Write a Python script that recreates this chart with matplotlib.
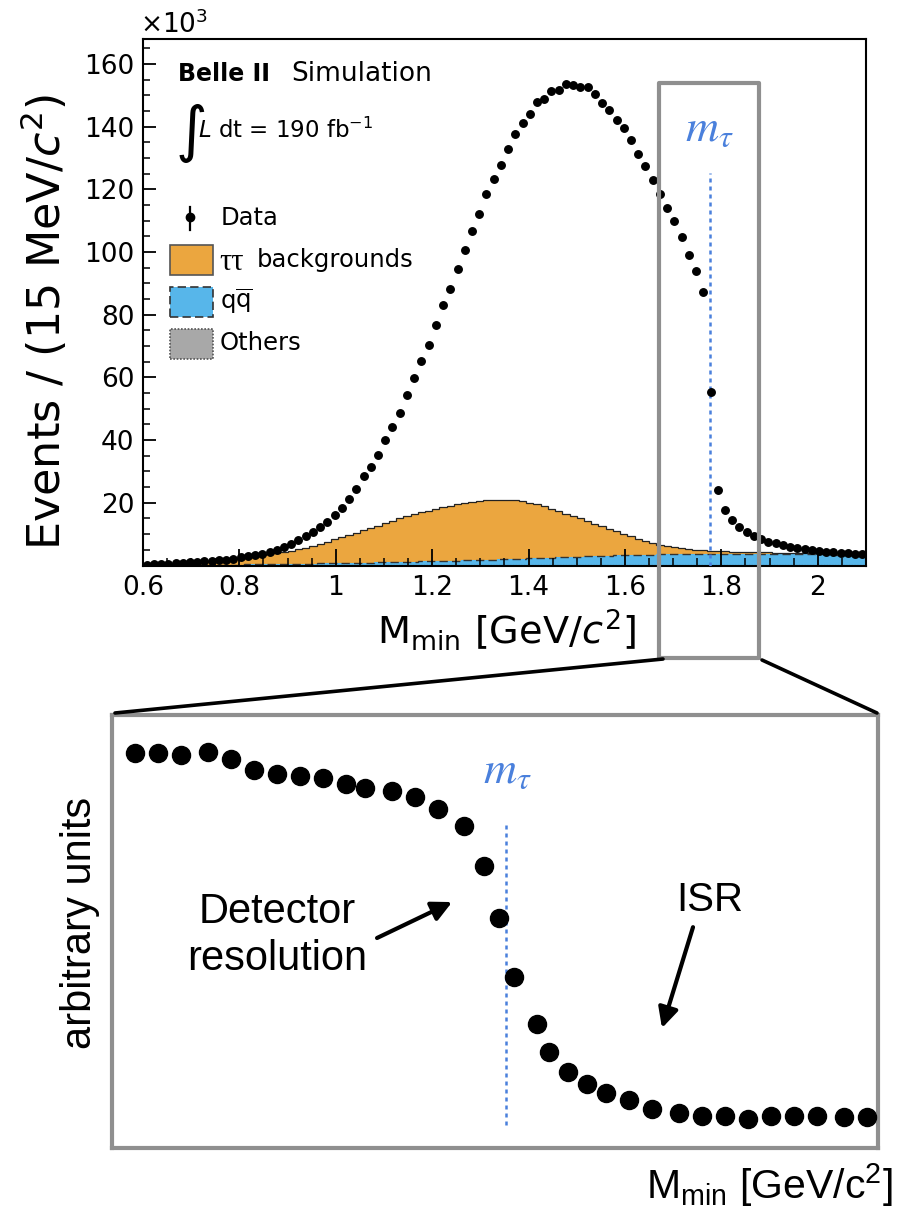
import numpy as np
import matplotlib
matplotlib.use("Agg")
import matplotlib.pyplot as plt
from matplotlib.patches import Rectangle, FancyArrowPatch
from matplotlib.lines import Line2D

# ---------------------------------------------------------------- data
# M_min spectrum, 100 bins of 15 MeV from 0.6 to 2.1 GeV (events in units of 1e3)
M_LOW, M_HIGH, N_BINS = 0.6, 2.1, 100
M_TAU = 1.777

data_counts = [
    0.3, 0.4, 0.5, 0.6, 0.7, 0.8, 1.0, 1.1, 1.3, 1.5, 1.7, 1.9, 2.2,
    2.6, 2.9, 3.3, 3.8, 4.4, 5.1, 6.0, 7.0, 8.2, 9.4, 10.7, 12.2, 14.0, 16.0, 18.5,
    21.1, 24.5, 28.4, 31.3, 35.3, 40.1, 44.3, 48.6, 54.4, 59.8, 65.1, 70.4, 76.8,
    83.0, 88.3, 94.5, 100.8, 106.7, 112.1, 118.7,
    123.3, 127.8, 132.8, 137.8, 141.3, 144.2, 147.9, 149.0, 151.4, 151.8, 153.6,
    153.4, 152.6, 152.6, 150.6, 147.7, 145.4, 142.2, 139.5, 135.7, 131.4, 127.5,
    122.9, 118.7, 114.1,
    109.9, 104.9, 99.0, 94.0, 87.3, 55.3,
    24.0, 17.8, 14.6, 12.4, 10.8, 9.5, 8.4, 7.6, 7.1, 6.5, 6.0, 5.7, 5.3, 4.9,
    4.6, 4.4, 4.2, 4.1, 3.9, 3.8, 3.6,
]

tautau_bkg = [
    0.20, 0.26, 0.33, 0.40, 0.47, 0.55, 0.68, 0.82, 0.96, 1.10,
    1.25, 1.49, 1.74, 2.00, 2.27, 2.55, 2.84, 3.14, 3.45, 3.77,
    4.10, 4.61, 5.14, 5.69, 6.27, 6.90, 7.56, 8.24, 8.93, 9.62,
    10.30, 11.02, 11.74, 12.45, 13.16, 13.85, 14.48, 15.08, 15.65, 16.19,
    16.70, 17.14, 17.54, 17.90, 18.26, 18.60, 18.79, 18.93, 19.02, 19.04,
    19.00, 18.77, 18.39, 17.86, 17.23, 16.50, 15.67, 14.79, 13.91, 13.03,
    12.20, 11.32, 10.44, 9.56, 8.68, 7.80, 6.94, 6.08, 5.22, 4.41,
    3.60, 3.06, 2.57, 2.18, 1.84, 1.60, 1.40, 1.22, 1.06, 0.92,
    0.80, 0.74, 0.68, 0.62, 0.56, 0.50, 0.48, 0.46, 0.44, 0.42,
    0.40, 0.40, 0.40, 0.40, 0.40, 0.40, 0.40, 0.40, 0.40, 0.40,
]

qqbar = [
    0.05, 0.06, 0.07, 0.07, 0.08, 0.09, 0.10, 0.12, 0.14, 0.15,
    0.17, 0.19, 0.20, 0.22, 0.24, 0.25, 0.28, 0.31, 0.33, 0.36,
    0.39, 0.42, 0.46, 0.50, 0.53, 0.57, 0.61, 0.64, 0.68, 0.72,
    0.75, 0.80, 0.85, 0.89, 0.94, 0.99, 1.03, 1.08, 1.13, 1.17,
    1.22, 1.28, 1.33, 1.39, 1.45, 1.50, 1.56, 1.62, 1.67, 1.73,
    1.79, 1.86, 1.94, 2.02, 2.09, 2.17, 2.25, 2.32, 2.40, 2.48,
    2.55, 2.63, 2.71, 2.78, 2.86, 2.94, 2.99, 3.05, 3.11, 3.16,
    3.22, 3.26, 3.30, 3.34, 3.38, 3.42, 3.42, 3.42, 3.42, 3.42,
    3.41, 3.41, 3.41, 3.41, 3.41, 3.41, 3.39, 3.37, 3.35, 3.33,
    3.30, 3.28, 3.26, 3.24, 3.22, 3.20, 3.18, 3.15, 3.13, 3.10,
]

others = [
    0.05, 0.05, 0.05, 0.06, 0.06, 0.06, 0.07, 0.07, 0.07, 0.08,
    0.08, 0.08, 0.09, 0.09, 0.09, 0.10, 0.10, 0.10, 0.11, 0.11,
    0.11, 0.12, 0.12, 0.12, 0.13, 0.13, 0.13, 0.14, 0.14, 0.14,
    0.15, 0.15, 0.15, 0.16, 0.16, 0.16, 0.17, 0.17, 0.17, 0.18,
    0.18, 0.18, 0.19, 0.19, 0.19, 0.20, 0.20, 0.20, 0.21, 0.21,
    0.21, 0.22, 0.22, 0.22, 0.23, 0.23, 0.23, 0.24, 0.24, 0.24,
    0.25, 0.25, 0.25, 0.26, 0.26, 0.26, 0.27, 0.27, 0.27, 0.28,
    0.28, 0.28, 0.28, 0.28, 0.28, 0.28, 0.28, 0.28, 0.28, 0.28,
    0.29, 0.29, 0.29, 0.29, 0.29, 0.29, 0.29, 0.29, 0.29, 0.29,
    0.30, 0.30, 0.30, 0.30, 0.30, 0.30, 0.30, 0.30, 0.30, 0.30,
]

x_tick_values = [0.6, 0.8, 1.0, 1.2, 1.4, 1.6, 1.8, 2.0]
x_tick_labels = ["0.6", "0.8", "1", "1.2", "1.4", "1.6", "1.8", "2"]
y_tick_values = [0, 20, 40, 60, 80, 100, 120, 140, 160]
y_tick_labels = ["", "20", "40", "60", "80", "100", "120", "140", "160"]

# close-up of the threshold region (schematic, arbitrary units)
zoom_mass = [
    1.680, 1.686, 1.692, 1.699, 1.705, 1.711, 1.717, 1.723, 1.729, 1.735,
    1.740, 1.747, 1.753, 1.759, 1.766, 1.771, 1.775, 1.779, 1.785, 1.788,
    1.793, 1.798, 1.803, 1.809, 1.815, 1.822, 1.828, 1.834, 1.840, 1.846,
    1.852, 1.858, 1.865, 1.871,
]
zoom_level = [
    91.2, 91.2, 90.8, 91.5, 89.8, 87.3, 86.4, 85.9, 85.5, 84.1,
    83.1, 82.4, 81.1, 78.3, 74.4, 65.1, 53.1, 39.5, 28.6, 22.2,
    17.6, 14.8, 12.7, 11.1, 9.0, 8.1, 7.4, 7.4, 6.7, 7.4,
    7.4, 7.4, 7.2, 7.2,
]

# ---------------------------------------------------------------- style
ORANGE = "#eba63f"
BLUE = "#57b6ea"
GREY_FILL = "#a8a8a8"
FRAME_GREY = "#8f8f8f"
MTAU_BLUE = "#4a80dc"

W, H = 911, 1207
plt.rcParams["font.family"] = ["DejaVu Sans"]
plt.rcParams["mathtext.fontset"] = "custom"
plt.rcParams["mathtext.rm"] = "DejaVu Sans"
plt.rcParams["mathtext.it"] = "DejaVu Sans:italic"
plt.rcParams["mathtext.bf"] = "DejaVu Sans:bold"


def P(px, py):
    """Pixel position (from the top-left corner) to figure fraction."""
    return px / W, 1.0 - py / H


fig = plt.figure(figsize=(W / 100, H / 100), dpi=100)
fig.patch.set_facecolor("white")

# ---------------------------------------------------------------- top panel
ax = fig.add_axes([143 / W, 1 - 565.5 / H, 723 / W, 526.5 / H])

edges = np.linspace(M_LOW, M_HIGH, N_BINS + 1)
centers = 0.5 * (edges[:-1] + edges[1:])
oth = np.array(others)
qq_top = oth + np.array(qqbar)
tt_top = qq_top + np.array(tautau_bkg)

ax.stairs(oth, edges, baseline=0, fill=True, color=GREY_FILL, zorder=1)
ax.stairs(qq_top, edges, baseline=oth, fill=True, color=BLUE, zorder=1)
ax.stairs(tt_top, edges, baseline=qq_top, fill=True, color=ORANGE, zorder=1)
ax.stairs(tt_top, edges, baseline=None, color="#222222", lw=0.9, zorder=1.2)
ax.stairs(qq_top, edges, baseline=None, color="#333333", lw=1.0,
          linestyle=(0, (6, 3)), zorder=1.2)
ax.stairs(oth, edges, baseline=None, color="#444444", lw=0.8,
          linestyle=(0, (1, 1.5)), zorder=1.2)

ax.plot(centers, data_counts, "o", color="black", ms=5.4, zorder=3)

ax.vlines(M_TAU, 0, 125.4, color=MTAU_BLUE, lw=1.8,
          linestyle=(0, (1.6, 1.6)), zorder=2.8)
ax.text(1.7245, 135.5, r"$m_{\tau}$", color=MTAU_BLUE, fontsize=33,
        math_fontfamily="stix", ha="left", va="baseline")

ax.set_xlim(M_LOW, M_HIGH)
ax.set_ylim(0, 168)
ax.set_xticks(x_tick_values)
ax.set_xticklabels(x_tick_labels)
ax.set_xticks(np.arange(0.6, 2.1001, 0.05), minor=True)
ax.set_yticks(y_tick_values)
ax.set_yticklabels(y_tick_labels)
ax.set_yticks(np.arange(0, 168, 5), minor=True)
ax.tick_params(which="both", direction="in", top=False, right=False,
               colors="black")
ax.tick_params(axis="x", which="major", length=12, width=1.3,
               labelsize=19, pad=7)
ax.tick_params(axis="x", which="minor", length=6, width=1.1)
ax.tick_params(axis="y", which="major", length=9, width=1.3,
               labelsize=19, pad=6)
ax.tick_params(axis="y", which="minor", length=5, width=1.1)
for sp in ax.spines.values():
    sp.set_linewidth(1.5)

ax.set_xlabel(r"M$_{\mathregular{min}}$ [GeV/$c^{\mathregular{2}}$]",
              fontsize=27.5, va="center")
ax.xaxis.set_label_coords(0.502, -0.1225)
ax.set_ylabel(r"Events / (15 MeV/$c^{\mathregular{2}}$)",
              fontsize=32, va="center")
ax.yaxis.set_label_coords(-0.1355, 0.4625)

fig.text(*P(140, 33), r"×10$^{\mathregular{3}}$", fontsize=19, va="baseline")

# title block and legend
fig.text(*P(178, 74), "Belle II", fontsize=17, weight="bold", va="center")
fig.text(*P(291, 74), "Simulation", fontsize=19, va="center")
fig.text(*P(175, 133), r"$\int$", fontsize=31, va="center",
         math_fontfamily="dejavusans")
fig.text(*P(198, 138), r"$L$ dt = 190 fb$^{\mathregular{-1}}$",
         fontsize=16.5, va="baseline")

fig.add_artist(Line2D([P(190, 207)[0]] * 2, [P(190, 207)[1], P(190, 230)[1]],
                      color="black", lw=1.6, transform=fig.transFigure))
fig.add_artist(Line2D([P(190, 217)[0]], [P(190, 217)[1]], marker="o",
                      ms=6, color="black", transform=fig.transFigure))
fig.text(*P(221, 218), "Data", fontsize=17.5, va="center")

legend_boxes = [
    (245, ORANGE, "#555555", "-"),
    (287, BLUE, "#333333", (0, (5, 2.5))),
    (329, GREY_FILL, "#555555", (0, (1, 1))),
]
for top, face, edge, ls in legend_boxes:
    x0, y0 = P(169.5, top + 29.5)
    fig.add_artist(Rectangle((x0, y0), 43 / W, 29.5 / H, facecolor=face,
                             edgecolor=edge, lw=1.2, linestyle=ls,
                             transform=fig.transFigure))
fig.text(*P(219, 262), "ττ", fontsize=22, va="center",
         family=["Liberation Serif", "DejaVu Serif"])
fig.text(*P(257, 260), "backgrounds", fontsize=17.5, va="center")
fig.text(*P(220, 301), r"q$\overline{\mathregular{q}}$", fontsize=17.5,
         va="center")
fig.text(*P(220, 343), "Others", fontsize=17.5, va="center")

# highlight box around the threshold and its connectors
bx0, by0 = P(659, 658)
fig.add_artist(Rectangle((bx0, by0), 100 / W, 575 / H, facecolor="none",
                         edgecolor=FRAME_GREY, lw=3.0, joinstyle="round",
                         transform=fig.transFigure, zorder=10))
for (xa, ya), (xb, yb) in [((663, 659), (115, 713)), ((762, 660), (877, 713))]:
    pa, pb = P(xa, ya), P(xb, yb)
    fig.add_artist(Line2D([pa[0], pb[0]], [pa[1], pb[1]], color="black",
                          lw=2.6, solid_capstyle="round",
                          transform=fig.transFigure, zorder=10))

# ---------------------------------------------------------------- zoomed panel
SANS = ["Liberation Sans", "DejaVu Sans"]
ax2 = fig.add_axes([112 / W, 1 - 1148 / H, 766 / W, 433 / H])
ax2.set_xlim(1.674, 1.874)
ax2.set_ylim(0, 100)
ax2.set_xticks([])
ax2.set_yticks([])
for sp in ax2.spines.values():
    sp.set_color(FRAME_GREY)
    sp.set_linewidth(3.0)
    sp.set_joinstyle("round")

ax2.plot(zoom_mass, zoom_level, "o", color="black", ms=13, zorder=3)
ax2.vlines(M_TAU, 5.3, 75.4, color=MTAU_BLUE, lw=1.8,
           linestyle=(0, (1.6, 1.6)), zorder=2)
ax2.text(1.7709, 84.3, r"$m_{\tau}$", color=MTAU_BLUE, fontsize=33,
         math_fontfamily="stix", ha="left", va="baseline")

ax2.text(1.7171, 49.0, "Detector\nresolution", fontsize=30, family=SANS,
         ha="center", va="center", linespacing=1.22)
ax2.add_patch(FancyArrowPatch((1.7432, 48.5), (1.7628, 56.8),
                              arrowstyle="-|>", mutation_scale=30, lw=3,
                              color="black", shrinkA=0, shrinkB=0))
ax2.text(1.8301, 57.3, "ISR", fontsize=29, family=SANS,
         ha="center", va="center")
ax2.add_patch(FancyArrowPatch((1.8257, 51.0), (1.8176, 27.7),
                              arrowstyle="-|>", mutation_scale=30, lw=3,
                              color="black", shrinkA=0, shrinkB=0))

ax2.set_ylabel("arbitrary units", fontsize=30, family=SANS, va="center")
ax2.yaxis.set_label_coords(-0.0418, 0.52)
ax2.set_xlabel(r"M$_{\mathregular{min}}$ [GeV/c$^{\mathregular{2}}$]",
               fontsize=29.5, family=SANS, va="center")
ax2.xaxis.set_label_coords(0.858, -0.0855)

fig.savefig("out.png", dpi=100, facecolor="white")
